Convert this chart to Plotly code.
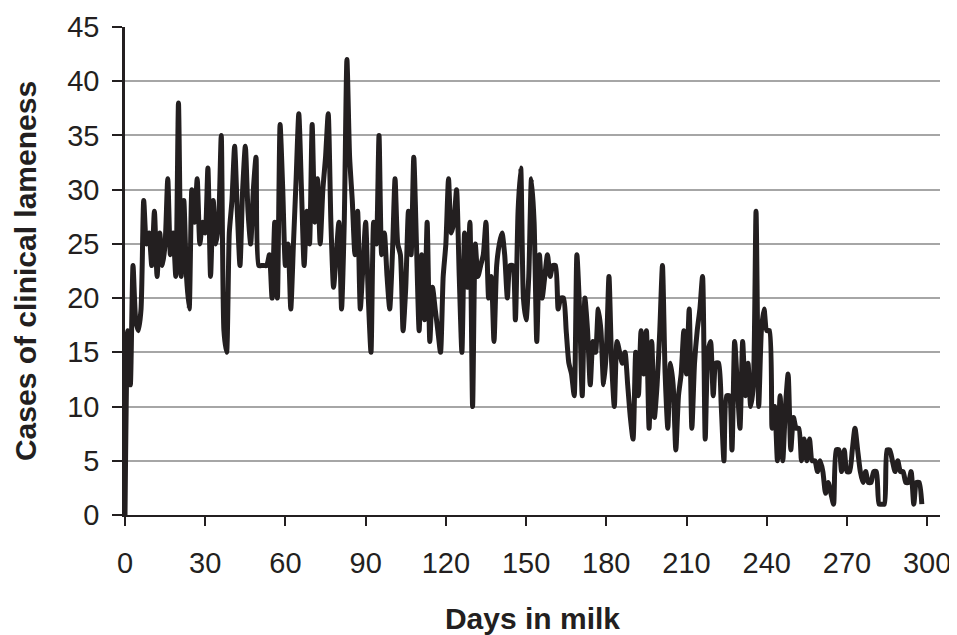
import plotly.graph_objects as go

days = list(range(0, 299))

cases = [
    0, 17, 12, 23, 18, 17, 19, 29, 25, 26,      # 0-9
    23, 28, 22, 26, 23, 25, 31, 24, 26, 22,     # 10-19
    38, 22, 29, 22, 19, 30, 27, 31, 25, 27,     # 20-29
    26, 32, 22, 29, 25, 27, 35, 17, 15, 26,     # 30-39
    29, 34, 28, 23, 30, 34, 28, 25, 30, 33,     # 40-49
    23, 23, 23, 23, 24, 20, 27, 20, 36, 30,     # 50-59
    23, 25, 19, 25, 31, 37, 30, 23, 28, 25,     # 60-69
    36, 27, 31, 25, 30, 33, 37, 27, 21, 24,     # 70-79
    27, 19, 27, 42, 33, 29, 24, 28, 19, 23,     # 80-89
    27, 20, 15, 27, 25, 35, 24, 26, 22, 19,     # 90-99
    24, 31, 25, 24, 17, 21, 28, 24, 33, 25,     # 100-109
    17, 24, 18, 27, 16, 21, 19, 17, 15, 22,     # 110-119
    25, 31, 26, 27, 30, 22, 15, 26, 21, 27,     # 120-129
    10, 25, 22, 23, 24, 27, 20, 22, 16, 23,     # 130-139
    25, 26, 24, 20, 23, 23, 18, 28, 32, 20,     # 140-149
    18, 22, 31, 27, 16, 24, 20, 22, 24, 22,     # 150-159
    23, 23, 19, 20, 20, 17, 14, 13, 11, 24,     # 160-169
    19, 11, 20, 17, 12, 16, 15, 19, 17, 12,     # 170-179
    15, 22, 14, 10, 16, 15, 14, 15, 12, 9,      # 180-189
    7, 15, 11, 17, 13, 17, 8, 16, 9, 12,        # 190-199
    17, 23, 13, 8, 14, 12, 6, 11, 13, 17,       # 200-209
    13, 19, 8, 14, 17, 19, 22, 7, 15, 16,       # 210-219
    11, 14, 14, 10, 5, 11, 11, 6, 16, 12,       # 220-229
    8, 16, 11, 14, 10, 12, 28, 10, 17, 19,      # 230-239
    17, 17, 8, 10, 5, 11, 5, 10, 13, 6,         # 240-249
    9, 8, 8, 5, 7, 5, 7, 5, 5, 4,               # 250-259
    5, 4, 2, 3, 2, 1, 6, 6, 4, 6,               # 260-269
    4, 4, 6, 8, 6, 4, 3, 4, 3, 3,               # 270-279
    4, 4, 1, 1, 1, 6, 6, 5, 4, 5,               # 280-289
    4, 4, 3, 3, 4, 1, 3, 3, 1,                  # 290-298
]

x_ticks = list(range(0, 301, 30))
y_ticks = list(range(0, 46, 5))

dark = "#231f20"
font_family = "Liberation Sans, Arial, sans-serif"

fig = go.Figure()
fig.add_trace(go.Scatter(
    x=days, y=cases, mode="lines",
    line=dict(color=dark, width=5, shape="spline", smoothing=0.6),
    showlegend=False, hoverinfo="x+y",
))

# page body has an 8px default margin, so the figure is sized to fit the window
fig.update_layout(
    width=949, height=627,
    margin=dict(l=117, r=17, t=19, b=120),
    paper_bgcolor="white", plot_bgcolor="white",
    font=dict(family=font_family, color=dark, size=29),
)

fig.update_xaxes(
    range=[0, 304.8], automargin=False,
    tickvals=x_ticks, ticktext=[str(v) for v in x_ticks],
    ticks="outside", ticklen=9, tickwidth=1.5, tickcolor=dark,
    showline=True, linecolor=dark, linewidth=2,
    showgrid=False, zeroline=False,
    ticklabelstandoff=12, ticklabeloverflow="allow",
    tickfont=dict(size=29, color=dark),
    title=dict(text="<b>Days in milk</b>", font=dict(size=30, color=dark), standoff=34),
)

fig.update_yaxes(
    range=[0, 45], automargin=False,
    tickvals=y_ticks, ticktext=[str(v) for v in y_ticks],
    ticks="outside", ticklen=10, tickwidth=1.5, tickcolor=dark,
    showline=True, linecolor=dark, linewidth=2.5,
    showgrid=True, gridcolor="#a6a6a6", gridwidth=1.5,
    zeroline=False,
    ticklabelstandoff=7,
    tickfont=dict(size=29, color=dark),
    title=dict(text="<b>Cases of clinical lameness</b>", font=dict(size=30, color=dark), standoff=22),
)

fig.write_html("out.html")
